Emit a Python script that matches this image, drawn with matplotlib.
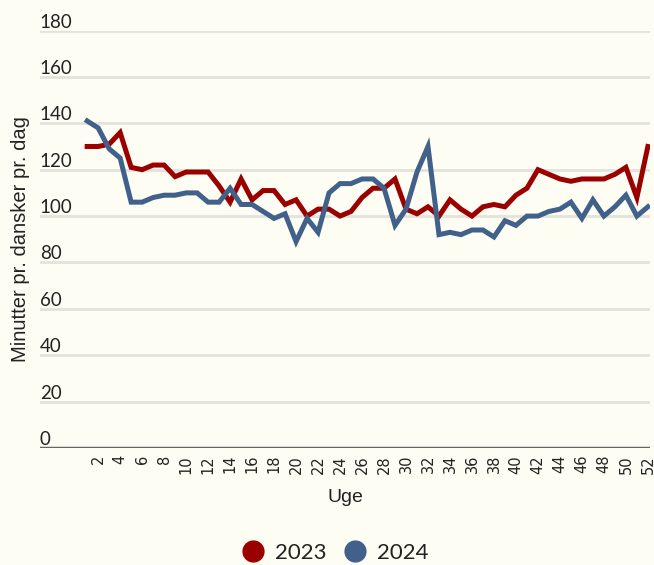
import matplotlib.pyplot as plt
from matplotlib.lines import Line2D

weeks = list(range(1, 53))

# minutter pr. dansker pr. dag
v2023 = [130, 130, 131, 136, 121, 120, 122, 122, 117, 119,
         119, 119, 113, 106, 116, 107, 111, 111, 105, 107,
         100, 103, 103, 100, 102, 108, 112, 112, 116, 103,
         101, 104, 100, 107, 103, 100, 104, 105, 104, 109,
         112, 120, 118, 116, 115, 116, 116, 116, 118, 121,
         108, 130]
v2024 = [141, 138, 129, 125, 106, 106, 108, 109, 109, 110,
         110, 106, 106, 112, 105, 105, 102, 99, 101, 89,
         99, 93, 110, 114, 114, 116, 116, 112, 96, 103,
         119, 130, 92, 93, 92, 94, 94, 91, 98, 96,
         100, 100, 102, 103, 106, 99, 107, 100, 104, 109,
         100, 104]

y_ticks = [0, 20, 40, 60, 80, 100, 120, 140, 160, 180]
x_ticks = list(range(2, 53, 2))

bg = '#fdfdf4'
red = '#9b0000'
blue = '#41618b'
txt_col = '#222222'

fig = plt.figure(figsize=(6.54, 5.65), dpi=100, facecolor=bg)
ax = fig.add_axes([0.061, 0.207, 0.933, 0.739], facecolor=bg)

ax.plot(weeks, v2023, color=red, lw=3.6, solid_joinstyle='miter', zorder=3)
ax.plot(weeks, v2024, color=blue, lw=3.6, solid_joinstyle='miter', zorder=3)

ax.set_xlim(-3.3, 52.2)
ax.set_ylim(0, 180)

for s in ax.spines.values():
    s.set_visible(False)

# gridlines + baseline
for t in y_ticks[1:]:
    ax.axhline(t, color='#e3e3dc', lw=2, zorder=1)
ax.axhline(0, color='#666666', lw=2.5, zorder=2)

ax.set_yticks(y_ticks)
ax.set_yticklabels([str(t) for t in y_ticks], fontfamily='Lato', fontsize=13.5, color=txt_col)
ax.tick_params(axis='y', length=0, pad=0)
for lbl in ax.get_yticklabels():
    lbl.set_horizontalalignment('left')
    lbl.set_verticalalignment('bottom')

ax.set_xticks(x_ticks)
ax.set_xticklabels([str(t) for t in x_ticks], rotation=90, fontfamily='DejaVu Sans',
                   fontsize=10.5, color=txt_col)
ax.tick_params(axis='x', length=0, pad=5)

ax.set_xlabel('Uge', fontfamily='Liberation Sans', fontsize=14, color=txt_col, labelpad=11)
ax.set_ylabel('Minutter pr. dansker pr. dag', fontfamily='Liberation Sans', fontsize=14.5,
              color=txt_col)
ax.yaxis.set_label_coords(-0.016, 0.5)

handles = [Line2D([], [], marker='o', ls='', color=red, markersize=15),
           Line2D([], [], marker='o', ls='', color=blue, markersize=15)]
leg = fig.legend(handles, ['2023', '2024'], loc='center', bbox_to_anchor=(0.513, 0.022),
                 ncol=2, frameon=False, handlelength=1.0, handletextpad=0.5,
                 columnspacing=0.77, prop={'family': 'Lato', 'size': 16})
for txt in leg.get_texts():
    txt.set_color(txt_col)

fig.savefig('out.png', dpi=100, facecolor=bg)
